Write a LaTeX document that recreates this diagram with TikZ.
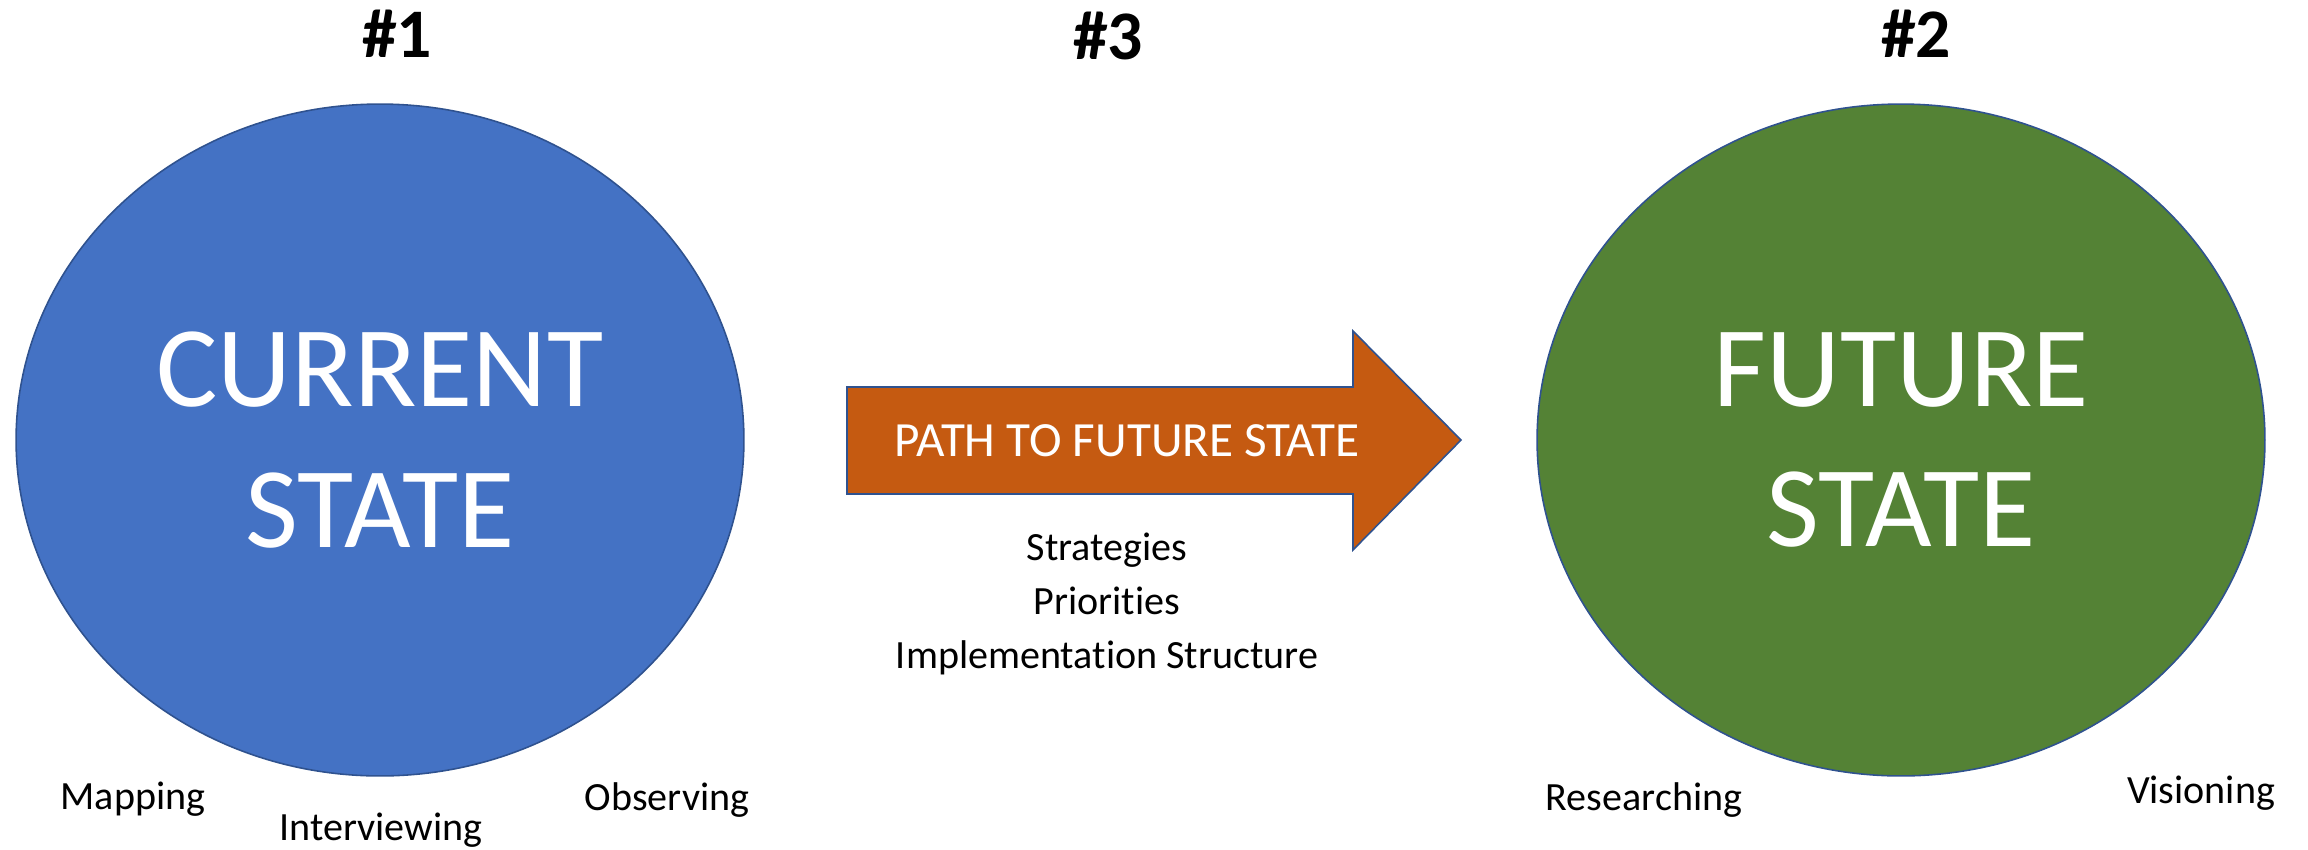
\documentclass[tikz,border=0pt]{standalone}
\usepackage{fontspec}
\setmainfont{Carlito}[Ligatures=NoCommon]
\usetikzlibrary{positioning, shapes.geometric}
\definecolor{currentblue}{HTML}{4472C4}
\definecolor{futuregreen}{HTML}{548235}
\definecolor{pathorange}{HTML}{C55A11}
\definecolor{edgeblue}{HTML}{2F528F}

\begin{document}
\begin{tikzpicture}[
    x=0.02cm, y=-0.02cm,
    state/.style={ellipse, draw=edgeblue, line width=0.9pt, minimum width=14.56cm, minimum height=13.44cm,
                  inner sep=0pt, text=white, align=center, font=\fontsize{65.5}{80}\selectfont},
    stepnum/.style={font=\fontsize{39.6}{44}\selectfont\bfseries},
    note/.style={font=\fontsize{22.8}{30.6}\selectfont, align=center},
]
\useasboundingbox (0,0) rectangle (2308,849);

% Step numbers
\node[stepnum] (num1) at (397,34) {\#1};
\node[stepnum] (num3) at (1108,36) {\#3};
\node[stepnum] (num2) at (1916,34) {\#2};

% Current state
\node[state, fill=currentblue] (current) at (380,440) {CURRENT\\STATE};
\node[note] (mapping) at (133,799) {Mapping};
\node[note] (interview) at (381,830) {Interviewing};
\node[note] (observe) at (667,800) {Observing};

% Future state
\node[state, fill=futuregreen] (future) at (1901,440) {FUTURE\\STATE};
\node[note] (research) at (1644,800) {Researching};
\node[note] (vision) at (2201,793) {Visioning};

% Path arrow
\draw[fill=pathorange, draw=edgeblue, line width=0.9pt]
    (847,387) -- (1353,387) -- (1353,331) -- (1461,440) -- (1353,550) -- (1353,494) -- (847,494) -- cycle;
\node[text=white, font=\fontsize{28}{32}\selectfont] (pathlbl) at (1127,441) {PATH TO FUTURE STATE};
\node[note] (tactics) at (1107,604) {Strategies\\Priorities\\Implementation Structure};

\end{tikzpicture}
\end{document}
